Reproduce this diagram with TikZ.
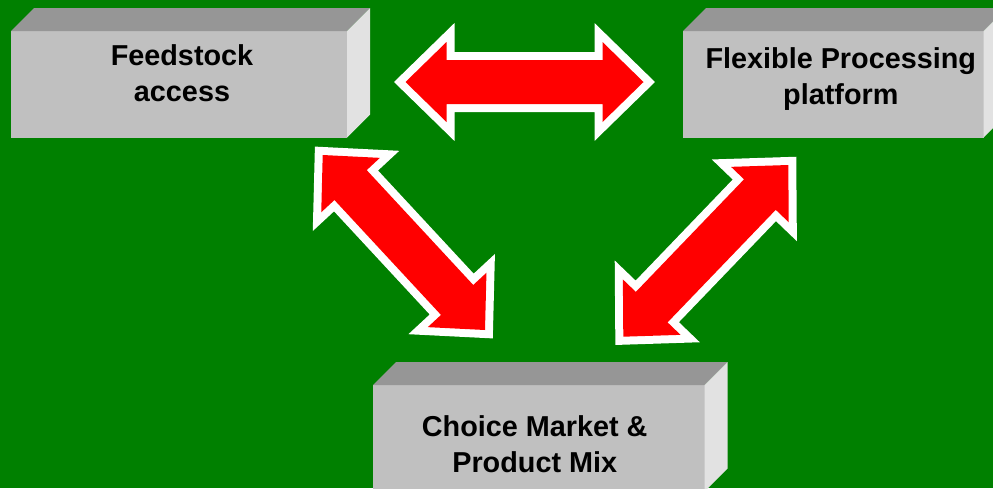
\documentclass[tikz,border=0pt]{standalone}
\usepackage{fontspec}
\setmainfont{Liberation Sans}
\usetikzlibrary{calc}

\definecolor{bggreen}{RGB}{0,128,0}
\definecolor{boxfront}{RGB}{192,192,192}
\definecolor{boxtop}{RGB}{150,150,150}
\definecolor{boxside}{RGB}{226,226,226}
\definecolor{arrowred}{RGB}{255,0,0}

\tikzset{
  frontface/.style={fill=boxfront, draw=none, inner sep=0pt, outer sep=0pt,
    anchor=north west, minimum height=106.5pt},
  boxtext/.style={align=center, inner sep=0pt, text=black,
    font=\bfseries\fontsize{28.8}{36}\selectfont},
  blockarrow/.style={fill=arrowred,
    preaction={draw=white, line width=16pt, line join=miter, miter limit=10}},
}

% top and right faces of a box whose front face is node #1
\newcommand\boxsides[1]{%
  \fill[boxtop] (#1.north west) -- ++(23,-23) -- ([shift={(23,-23)}]#1.north east)
    -- (#1.north east) -- cycle;
  \fill[boxside] (#1.north east) -- ([shift={(23,-23)}]#1.north east)
    -- ([shift={(23,-23)}]#1.south east) -- (#1.south east) -- cycle;}

% double-headed block arrow from tip #1 to tip #2
\newcommand\blockarrow[2]{%
  \coordinate (#1-#2-h1) at ($(#1)!41pt!(#2)$);
  \coordinate (#1-#2-h2) at ($(#2)!41pt!(#1)$);
  \path[blockarrow] (#1)
    -- ($(#1-#2-h1)!40pt!90:(#2)$) -- ($(#1-#2-h1)!22pt!90:(#2)$)
    -- ($(#1-#2-h2)!22pt!-90:(#1)$) -- ($(#1-#2-h2)!40pt!-90:(#1)$)
    -- (#2)
    -- ($(#1-#2-h2)!40pt!90:(#1)$) -- ($(#1-#2-h2)!22pt!90:(#1)$)
    -- ($(#1-#2-h1)!22pt!-90:(#2)$) -- ($(#1-#2-h1)!40pt!-90:(#2)$)
    -- cycle;}

\begin{document}
\begin{tikzpicture}[x=1pt, y=-1pt]
  \useasboundingbox (0,0) rectangle (993,488);
  \fill[bggreen] (0,0) rectangle (993,488);

  % boxes
  \node[frontface, minimum width=336pt] (feed) at (11,31) {};
  \boxsides{feed}
  \node[boxtext] (feed-text) at (182,73) {Feedstock\\access};

  \node[frontface, minimum width=300.5pt] (flex) at (683,31) {};
  \boxsides{flex}
  \node[boxtext] (flex-text) at (840.8,79) {Flexible Processing\\platform};

  \node[frontface, minimum width=331.5pt] (mix) at (373,385) {};
  \boxsides{mix}
  \node[boxtext] (mix-text) at (534.7,444) {Choice Market \&\\Product Mix};

  % arrow tips
  \coordinate (h-left) at (405.5,82);
  \coordinate (h-right) at (643.5,82);
  \coordinate (l-top) at (322.7,155);
  \coordinate (l-bot) at (485,330);
  \coordinate (r-bot) at (623.3,336.7);
  \coordinate (r-top) at (788.3,165);

  \blockarrow{h-left}{h-right}
  \blockarrow{l-top}{l-bot}
  \blockarrow{r-bot}{r-top}
\end{tikzpicture}
\end{document}
